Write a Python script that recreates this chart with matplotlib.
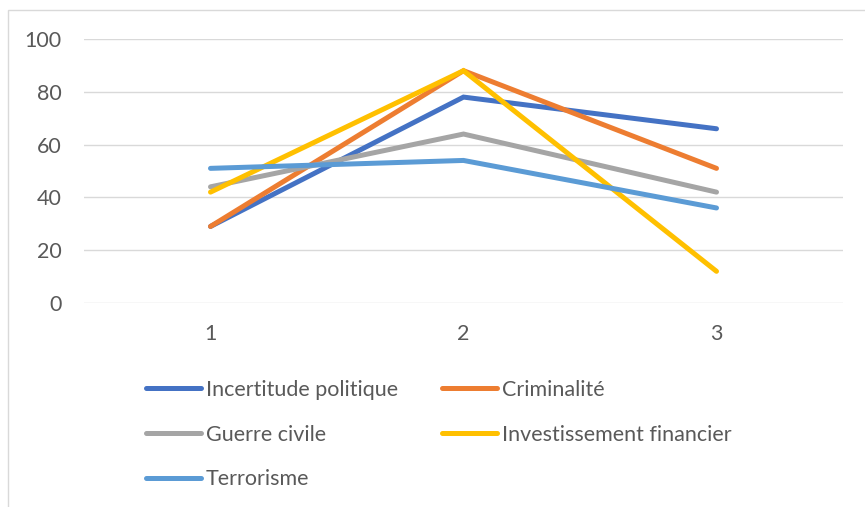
import matplotlib
matplotlib.use("Agg")
from matplotlib import pyplot as plt
from matplotlib.patches import Rectangle

# Chart data
categories = [1, 2, 3]
incertitude = [29, 78, 66]
criminalite = [29, 88, 51]
guerre = [44, 64, 42]
investissement = [42, 88, 12]
terrorisme = [51, 54, 36]

series_names = ["Incertitude politique", "Criminalité", "Guerre civile",
                "Investissement financier", "Terrorisme"]
series_values = [incertitude, criminalite, guerre, investissement, terrorisme]
series_colors = ["#4472C4", "#ED7D31", "#A5A5A5", "#FFC000", "#5B9BD5"]

plt.rcParams['font.family'] = ['Lato', 'DejaVu Sans']
text_color = "#595959"

fig = plt.figure(figsize=(8.65, 5.07), dpi=100)
W, H = 865, 507

# light frame around the chart area (Excel style)
fig.patches.append(Rectangle((8 / W, -0.1), 1.2, 1 - 10 / H + 0.1,
                             transform=fig.transFigure, fill=False,
                             edgecolor="#D9D9D9", linewidth=1.0))

ax = fig.add_axes([84 / W, 1 - 303 / H, (843 - 84) / W, (303 - 39) / H])

for name, vals, col in zip(series_names, series_values, series_colors):
    ax.plot(categories, vals, color=col, linewidth=3.6,
            solid_capstyle='round', solid_joinstyle='miter', label=name)

ax.set_xlim(0.5, 3.5)
ax.set_ylim(0, 100)
ax.set_xticks(categories)
ax.set_yticks([0, 20, 40, 60, 80, 100])
ax.grid(axis='y', color="#D9D9D9", linewidth=1.0)
ax.set_axisbelow(True)
for s in ax.spines.values():
    s.set_visible(False)
ax.tick_params(axis='both', length=0, labelsize=15.5, labelcolor=text_color)
ax.tick_params(axis='y', pad=16)
ax.tick_params(axis='x', pad=15)

# legend filled row by row like Excel: reorder for matplotlib's column filling
handles, labels = ax.get_legend_handles_labels()
order = [0, 2, 4, 1, 3]
leg = fig.legend([handles[i] for i in order], [labels[i] for i in order],
                 loc='upper left', ncol=2,
                 bbox_to_anchor=(135 / W, 1 - 369 / H), frameon=False,
                 fontsize=15.5, handlelength=2.55, handletextpad=0.23,
                 labelspacing=1.15, columnspacing=2.05, borderpad=0)
for t in leg.get_texts():
    t.set_color(text_color)

plt.savefig("out.png", dpi=100)
plt.close()
